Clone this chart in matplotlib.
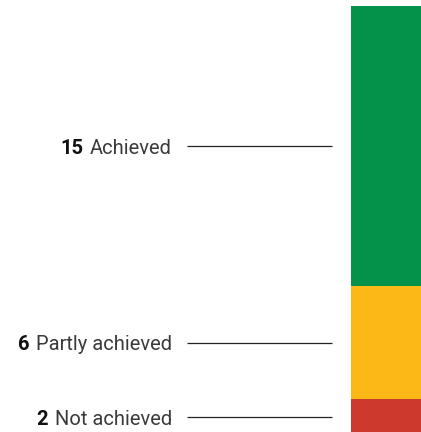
import matplotlib
matplotlib.use("Agg")
import matplotlib.pyplot as plt
import matplotlib.transforms as mtransforms

categories = ["Not achieved", "Partly achieved", "Achieved"]
counts = [2, 6, 15]
colors = ["#CD3A2B", "#FBB817", "#04924A"]

W, H = 421, 432
fig = plt.figure(figsize=(W / 100, H / 100), dpi=100)

# Stacked single bar on the right edge
ax = fig.add_axes([351 / W, -4 / H, 72 / W, 430 / H])
bottom = 0
centers = []
for cat, val, col in zip(categories, counts, colors):
    ax.bar(0, val, bottom=bottom, width=1.0, color=col, linewidth=0)
    centers.append(bottom + val / 2)
    bottom += val
ax.set_xlim(-0.5, 0.5)
ax.set_ylim(0, sum(counts))
ax.axis("off")

# Leader lines and labels: x in figure fraction, y in bar data units
trans = mtransforms.blended_transform_factory(fig.transFigure, ax.transData)
label_offset = mtransforms.ScaledTranslation(0, -1.5 / 72, fig.dpi_scale_trans)
font = "Roboto"
for cat, val, yc in zip(categories, counts, centers):
    ax.plot([187 / W, 332 / W], [yc, yc], transform=trans, color="#222222",
            linewidth=0.9, clip_on=False, solid_capstyle="butt")
    lab = ax.text(172 / W, yc, cat, transform=trans + label_offset,
                  ha="right", va="center", fontsize=14.5, color="#3a3a3a",
                  family=font, clip_on=False)
    ax.annotate(str(val), xy=(0, 0.5), xycoords=lab, xytext=(-5, 0),
                textcoords="offset points", ha="right", va="center",
                fontsize=14.5, fontweight="bold", color="#111111", family=font,
                annotation_clip=False)

fig.savefig("out.png", dpi=100)
